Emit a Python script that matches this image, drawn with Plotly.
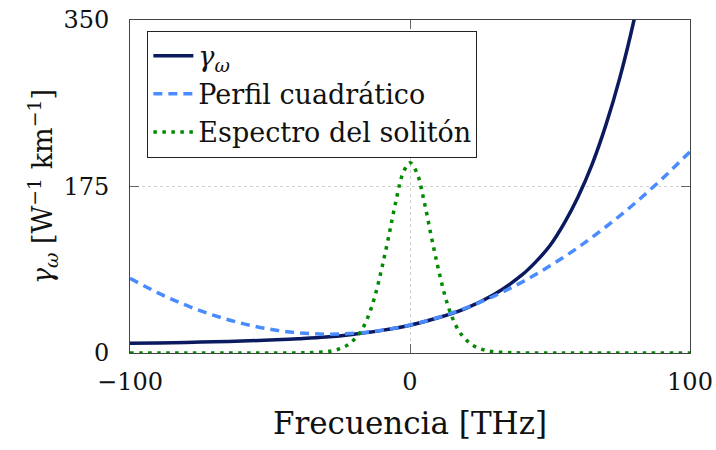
import plotly.graph_objects as go

# Nonlinear coefficient gamma(omega) versus frequency offset
freq_gamma = [-100, -90, -80, -70, -60, -50, -40, -30, -20, -10, 0,
              10, 20, 30, 40, 45, 50, 55, 60, 65, 70, 75, 80, 85]
gamma_w = [10.2, 10.6, 11.1, 11.8, 12.6, 13.6, 15.0, 16.8, 19.8, 23.8, 29.2,
           37.0, 47.0, 61.5, 82.0, 96.0, 113.0, 136.0, 164.0, 198.0, 240.0,
           290.0, 350.0, 422.0]

# Quadratic (second-order) approximation of gamma
freq_quad = [-100, -90, -80, -70, -60, -50, -40, -30, -20, -10, 0,
             10, 20, 30, 40, 50, 60, 70, 80, 90, 100]
gamma_quad = [78.5, 63.2, 50.2, 39.5, 31.1, 25.0, 21.3, 19.8, 20.7, 23.9, 29.4,
              37.3, 47.3, 59.8, 74.5, 91.6, 110.9, 132.7, 156.6, 183.0, 211.6]

# Soliton power spectrum (arbitrary scale)
freq_sol = [-100, -80, -60, -50, -40, -35, -30, -27.5, -25, -22.5, -20, -17.5,
            -15, -12.5, -10, -7.5, -5, -2.5, 0, 2.5, 5, 7.5, 10, 12.5, 15,
            17.5, 20, 22.5, 25, 27.5, 30, 35, 40, 50, 60, 80, 100]
spectrum = [0, 0, 0, 0, 0.1, 0.4, 1.3, 2.5, 4.5, 8, 14, 23,
            38, 60, 90, 124, 160, 189, 200, 189, 160, 124, 90, 60, 38,
            23, 14, 8, 4.5, 2.5, 1.3, 0.4, 0.1, 0, 0, 0, 0]

x_ticks = [-100, 0, 100]
y_ticks = [0, 175, 350]

SERIF = "DejaVu Serif"

fig = go.Figure()
fig.add_trace(go.Scatter(
    x=freq_gamma, y=gamma_w, mode="lines", name="<i>γ</i><sub><i>ω</i></sub>",
    line=dict(color="#0b1a5e", width=3.5, shape="spline"),
))
fig.add_trace(go.Scatter(
    x=freq_quad, y=gamma_quad, mode="lines", name="Perfil cuadrático",
    line=dict(color="#4a8cff", width=3.5, shape="spline", dash="9px,6px"),
))
fig.add_trace(go.Scatter(
    x=freq_sol, y=spectrum, mode="lines", name="Espectro del solitón",
    line=dict(color="#008a00", width=3.5, shape="spline", dash="3.5px,5.5px"),
))

axis_common = dict(
    showline=True, linecolor="#444", linewidth=1, mirror="ticks",
    ticks="inside", ticklen=9, tickcolor="#666", tickwidth=1,
    showgrid=True, gridcolor="#cfcfcf", griddash="dot", gridwidth=1,
    zeroline=False, tickfont=dict(family=SERIF, size=24, color="#111"),
)

fig.update_xaxes(
    range=[-100, 100], tickvals=x_ticks, ticktext=["−100", "0", "100"],
    ticklabelstandoff=7,
    title=dict(text="Frecuencia [THz]", font=dict(family=SERIF, size=31, color="#111"),
               standoff=17),
    **axis_common,
)
fig.update_yaxes(
    range=[0, 350], tickvals=y_ticks, ticktext=["0", "175", "350"],
    ticklabelstandoff=15,
    title=dict(text="<i>γ</i><sub><i>ω</i></sub> [W<sup>−1</sup> km<sup>−1</sup>]",
               font=dict(family=SERIF, size=27, color="#111"), standoff=2),
    **axis_common,
)

fig.update_layout(
    width=716, height=450,
    margin=dict(l=130, r=26, t=20, b=97, autoexpand=False),
    plot_bgcolor="white", paper_bgcolor="white",
    showlegend=True,
    legend=dict(
        x=0.031, y=0.968, xanchor="left", yanchor="top",
        bgcolor="white", bordercolor="#222", borderwidth=1,
        font=dict(family=SERIF, size=27, color="#111"),
        itemwidth=40, tracegroupgap=0,
    ),
)

fig.write_html("out.html")
